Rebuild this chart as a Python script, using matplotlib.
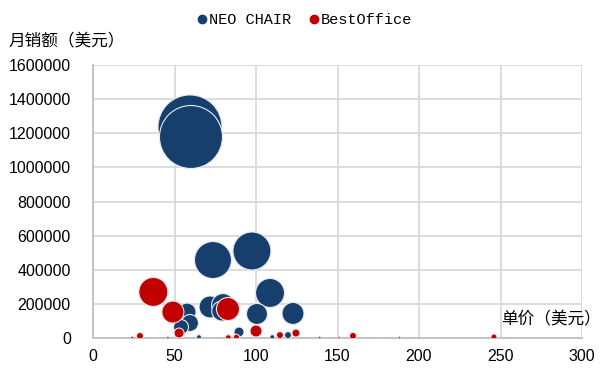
import matplotlib
matplotlib.use("Agg")
import matplotlib.pyplot as plt
from matplotlib.lines import Line2D

# ---- data ----
neo_price = [59.5, 60.1, 73.6, 97.5, 108.6, 122.7, 100.6, 71.8, 79.8, 79.0,
             57.7, 59.5, 54.0, 89.6, 65.0, 110.0, 119.6]
neo_sales = [1237000, 1178000, 457000, 510000, 264000, 144000, 141000, 182000,
             193000, 158000, 152000, 88000, 64000, 35000, 5000, 5000, 17000]
neo_size = [4096, 3969, 1369, 1444, 841, 484, 441, 484, 529, 400,
            324, 289, 225, 100, 25, 25, 49]

best_price = [37.0, 49.0, 82.8, 100.0, 52.8, 28.8, 24.0, 46.0, 83.0, 88.0,
              114.7, 124.5, 139.0, 151.0, 159.5, 188.0, 246.0]
best_sales = [270000, 152000, 170000, 41000, 29000, 12000, 2000, 1000, 2000, 5000,
              17000, 29000, 1000, 0, 12000, 0, 6000]
best_size = [841, 484, 529, 144, 100, 49, 9, 9, 36, 36,
             49, 64, 9, 9, 49, 9, 36]

series_names = ["NEO CHAIR", "BestOffice"]
x_ticks = [0, 50, 100, 150, 200, 250, 300]
y_ticks = [0, 200000, 400000, 600000, 800000, 1000000, 1200000, 1400000, 1600000]

# ---- style ----
BLUE = "#173F6E"
RED = "#C00000"
GRID = "#D9D9D9"
cjk = ["Noto Sans CJK SC", "DejaVu Sans"]

fig = plt.figure(figsize=(6.03, 3.69), dpi=100)
ax = fig.add_axes([93/603, 31/369, 489/603, 273/369])

max_size = max(max(neo_size), max(best_size))
max_d_pt = 64 * 0.72
def area(sz):
    return [v / max_size * max_d_pt ** 2 for v in sz]

ax.scatter(neo_price, neo_sales, s=area(neo_size), color=BLUE,
           edgecolors="#E6ECF2", linewidths=0.8, zorder=3)
ax.scatter(best_price, best_sales, s=area(best_size), color=RED,
           edgecolors="#F2E0E0", linewidths=0.8, zorder=4)

ax.set_xlim(0, 300)
ax.set_ylim(0, 1600000)
ax.set_xticks(x_ticks)
ax.set_yticks(y_ticks)
ax.set_xticklabels([str(v) for v in x_ticks], fontsize=11.5, family="Liberation Sans")
ax.set_yticklabels([str(v) for v in y_ticks], fontsize=11.5, family="Liberation Sans")
ax.tick_params(axis="both", length=0, colors="#000000")
ax.tick_params(axis="y", pad=16)
ax.tick_params(axis="x", pad=8)
ax.grid(True, color=GRID, linewidth=1.3, zorder=0)
ax.set_axisbelow(True)
for side in ["left", "bottom"]:
    ax.spines[side].set_color("#BFBFBF")
    ax.spines[side].set_linewidth(1.3)
for side in ["top", "right"]:
    ax.spines[side].set_visible(False)

fig.text(8/603, 1 - 42/369, "月销额（美元）", family=cjk, fontsize=12,
         va="center", ha="left")
fig.text(601/603, 1 - 320/369, "单价（美元）", family=cjk, fontsize=12,
         va="center", ha="right")

handles = [Line2D([], [], marker="o", linestyle="", color=BLUE, markersize=6),
           Line2D([], [], marker="o", linestyle="", color=RED, markersize=6)]
fig.legend(handles, series_names, loc="center", bbox_to_anchor=(305/603, 1 - 20/369),
           ncol=2, frameon=False, handlelength=0.6, handletextpad=0.15,
           columnspacing=1.2, prop={"family": "Liberation Mono", "size": 11})

fig.savefig("out.png", dpi=100)
